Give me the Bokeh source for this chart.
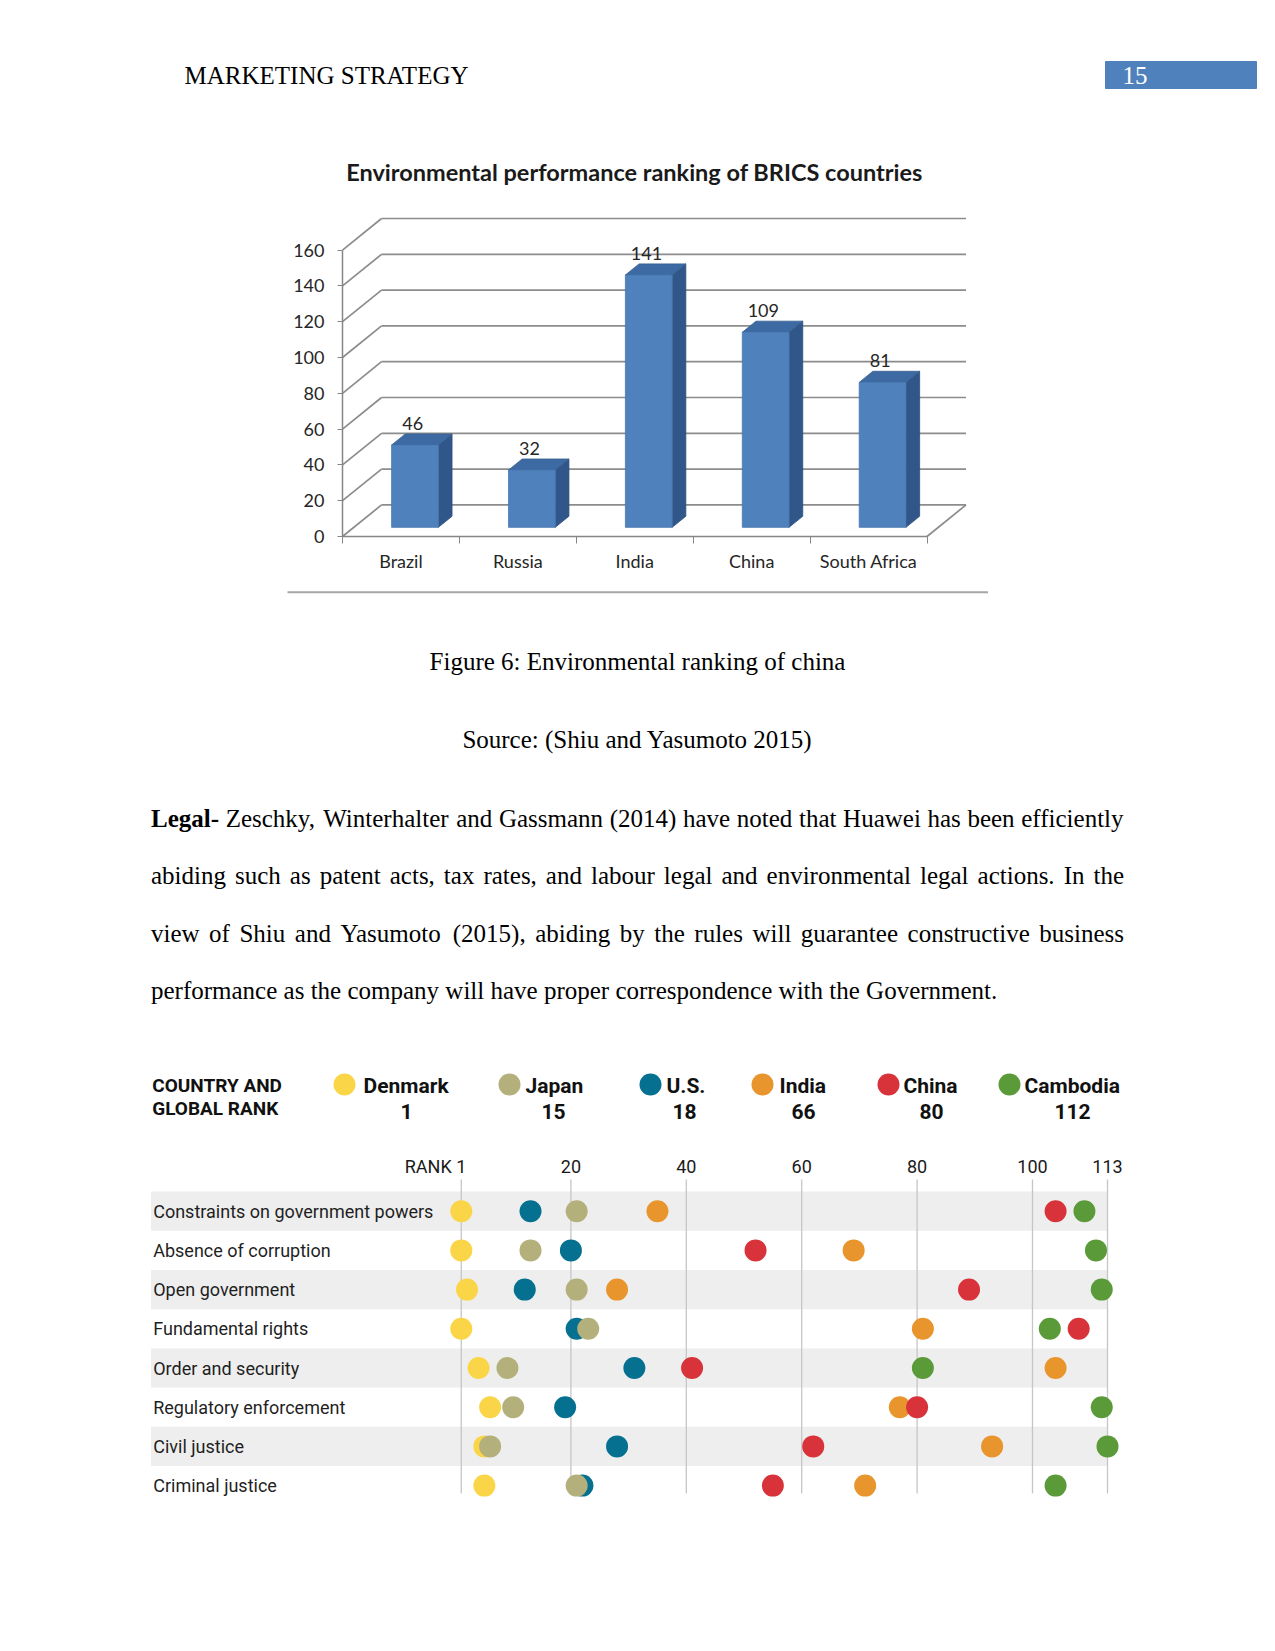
from bokeh.plotting import figure
from bokeh.layouts import column
from bokeh.models import Range1d, FixedTicker
from bokeh.core.properties import value
from bokeh.embed import file_html
from bokeh.resources import INLINE

# ---------------- data ----------------
BRICS = ["Brazil", "Russia", "India", "China", "South Africa"]
BRICS_RANK = [46, 32, 141, 109, 81]
BAR_Y_TICKS = [0, 20, 40, 60, 80, 100, 120, 140, 160]

PILLARS = ["Constraints on government powers", "Absence of corruption", "Open government",
           "Fundamental rights", "Order and security", "Regulatory enforcement",
           "Civil justice", "Criminal justice"]
COUNTRIES = ["Denmark", "Japan", "U.S.", "India", "China", "Cambodia"]
GLOBAL_RANK = [1, 15, 18, 66, 80, 112]
DENMARK = [1, 1, 2, 1, 4, 6, 5, 5]
JAPAN = [21, 13, 21, 23, 9, 10, 6, 21]
US = [13, 20, 12, 21, 31, 19, 28, 22]
INDIA = [35, 69, 28, 81, 104, 77, 93, 71]
CHINA = [104, 52, 89, 108, 41, 80, 62, 55]
CAMBODIA = [109, 111, 112, 103, 81, 112, 113, 104]
RANK_TICKS = [1, 20, 40, 60, 80, 100, 113]
RANK_TICK_LABELS = ["RANK 1", "20", "40", "60", "80", "100", "113"]

HEADER = "MARKETING STRATEGY"
PAGE_NO = "15"
CAPTION = "Figure 6: Environmental ranking of china"
SOURCE = "Source: (Shiu and Yasumoto 2015)"
PARA_LEAD = "Legal-"
PARA_LINES = [
    "Zeschky, Winterhalter and Gassmann (2014) have noted that Huawei has been efficiently",
    "abiding such as patent acts, tax rates, and labour legal and environmental legal actions. In the",
    "view of Shiu and Yasumoto (2015), abiding by the rules will guarantee constructive business",
    "performance as the company will have proper correspondence with the Government.",
]

# ---------------- styles / layout ----------------
W = 1275
SERIF = value("Liberation Serif")
CAL = value("Lato")
SANS = value("Roboto")
DOT_COLORS = {"Denmark": "#FAD548", "Japan": "#B4B07C", "U.S.": "#05708F",
              "India": "#E8952E", "China": "#D8333A", "Cambodia": "#5B9A39"}
DRAW_ORDER = ["Denmark", "U.S.", "Japan", "India", "China", "Cambodia"]
SERIES = {"Denmark": DENMARK, "Japan": JAPAN, "U.S.": US, "India": INDIA,
          "China": CHINA, "Cambodia": CAMBODIA}
BASE_FIX = 8.4   # serif text baselines sit this much higher


def clean(p):
    p.outline_line_color = None
    p.background_fill_color = "white"
    p.border_fill_color = "white"
    p.xgrid.visible = False
    p.ygrid.visible = False
    return p


def page_fig(y0, y1):
    p = figure(width=W, height=y1 - y0, x_range=Range1d(0, W), y_range=Range1d(y1, y0),
               output_backend="svg", toolbar_location=None,
               x_axis_location=None, y_axis_location=None, min_border=0)
    return clean(p)


# ---------------- header ----------------
p1 = page_fig(0, 140)
p1.quad(left=[1105], right=[1256], top=[61], bottom=[88], color="#4F81BD")
p1.text(x=[184], y=[83 - BASE_FIX], text=[HEADER], text_font=SERIF, text_font_size="25px",
        text_baseline="alphabetic", text_color="black")
p1.text(x=[1122], y=[83 - BASE_FIX], text=[PAGE_NO], text_font=SERIF, text_font_size="25px",
        text_baseline="alphabetic", text_color="white")

# ---------------- 3D bar chart ----------------
UX, UY = 116.9, 1.79          # px per category / px per value unit
AX, AY = 342, 536             # page position of the chart origin
Y2A, Y2B = 140, 585
p2 = figure(width=W, height=Y2B - Y2A, output_backend="svg", toolbar_location=None,
            x_range=Range1d((0 - AX) / UX, (W - AX) / UX),
            y_range=Range1d((AY - Y2B) / UY, (AY - Y2A) / UY), min_border=0)
clean(p2)

DX, DY = 0.334, 17.65
NC = len(BRICS)
gx0, gy0, gx1, gy1 = [], [], [], []
for v in BAR_Y_TICKS:
    gx0 += [0, DX]; gy0 += [v, v + DY]
    gx1 += [DX, NC + DX]; gy1 += [v + DY, v + DY]
gx0.append(NC); gy0.append(0); gx1.append(NC + DX); gy1.append(DY)
p2.segment(x0=gx0, y0=gy0, x1=gx1, y1=gy1, line_color="#8C8C8C", line_width=1.7)

OFF_X, OFF_Y, BW, SDX, SDY = 0.12, 5.1, 0.4, 0.117, 6.2
fl, fr, fb, ft = [], [], [], []
sxs, sys_, txs, tys = [], [], [], []
lx, ly, lt = [], [], []
for i, v in enumerate(BRICS_RANK):
    c = i + 0.5
    xl = c + OFF_X - BW / 2
    xr = xl + BW
    yb, yt = OFF_Y, OFF_Y + v
    fl.append(xl); fr.append(xr); fb.append(yb); ft.append(yt)
    sxs.append([xr, xr + SDX, xr + SDX, xr]); sys_.append([yb, yb + SDY, yt + SDY, yt])
    txs.append([xl, xl + SDX, xr + SDX, xr]); tys.append([yt, yt + SDY, yt + SDY, yt])
    lx.append(c + 0.1); ly.append(yt + SDY + 5.9); lt.append(str(v))
p2.patches(xs=sxs, ys=sys_, fill_color="#31578A", line_color="#2C4F7E", line_width=0.8)
p2.patches(xs=txs, ys=tys, fill_color="#3D6AA2", line_color="#36608F", line_width=0.8)
p2.quad(left=fl, right=fr, bottom=fb, top=ft, fill_color="#4F81BD", line_color="#4877B0",
        line_width=0.8)
p2.text(x=lx, y=ly, text=lt, text_font=CAL, text_font_size="18px", text_align="center",
        text_baseline="middle", text_color="#262626")
p2.text(x=[(634 - AX) / UX], y=[(AY - 171.6) / UY],
        text=["Environmental performance ranking of BRICS countries"],
        text_font=CAL, text_font_style="bold", text_font_size="23.5px",
        text_align="center", text_baseline="middle", text_color="#1a1a1a")

ya = p2.yaxis[0]
ya.fixed_location = 0
ya.ticker = FixedTicker(ticks=BAR_Y_TICKS)
ya.bounds = (0, BAR_Y_TICKS[-1])
ya.major_tick_in = 0
ya.major_tick_out = 5
ya.minor_tick_line_color = None
ya.axis_line_color = "#868686"
ya.axis_line_width = 1.5
ya.major_tick_line_color = "#868686"
ya.major_label_text_font = "Lato"
ya.major_label_text_font_size = "18px"
ya.major_label_text_color = "#262626"
ya.major_label_standoff = 13

xa = p2.xaxis[0]
xa.fixed_location = 0
xa.ticker = FixedTicker(ticks=[i + 0.5 for i in range(NC)], minor_ticks=list(range(NC + 1)))
xa.major_label_overrides = {i + 0.5: n for i, n in enumerate(BRICS)}
xa.bounds = (0, NC)
xa.major_tick_line_color = None
xa.major_tick_in = 0
xa.major_tick_out = 0
xa.minor_tick_in = 0
xa.minor_tick_out = 7
xa.minor_tick_line_color = "#868686"
xa.axis_line_color = "#868686"
xa.axis_line_width = 1.5
xa.major_label_text_font = "Lato"
xa.major_label_text_font_size = "18px"
xa.major_label_text_color = "#262626"
xa.major_label_standoff = 6

# ---------------- captions and paragraph ----------------
p3 = page_fig(585, 1010)
p3.segment(x0=[287], y0=[591.7], x1=[987.5], y1=[591.7], line_color="#A6A6A6", line_width=2)
p3.text(x=[637, 637], y=[669.3 - BASE_FIX, 747.3 - BASE_FIX], text=[CAPTION, SOURCE],
        text_font=SERIF, text_font_size="25px", text_align="center",
        text_baseline="alphabetic", text_color="black")

TNR = {' ': .25, '(': .333, ')': .333, ',': .25, '-': .333, '.': .25, ':': .278}
TNR.update({d: .5 for d in "0123456789"})
TNR.update(dict(zip("ABCDEFGHIJKLMNOPQRSTUVWXYZ",
                    [.722, .667, .667, .722, .611, .556, .722, .722, .333, .389, .722, .611, .889,
                     .722, .722, .556, .722, .667, .556, .611, .722, .722, .944, .722, .722, .611])))
TNR.update(dict(zip("abcdefghijklmnopqrstuvwxyz",
                    [.444, .5, .444, .5, .444, .333, .5, .5, .278, .278, .5, .278, .778, .5, .5,
                     .5, .5, .333, .389, .278, .5, .5, .722, .5, .5, .444])))
TNR_B = {'L': .667, 'e': .444, 'g': .5, 'a': .5, 'l': .278, '-': .333}
FS = 25


def tw(s, bold=False):
    return sum((TNR_B.get(ch, TNR.get(ch, .5)) if bold else TNR.get(ch, .5)) for ch in s) * FS


LEFT, RIGHT = 150.5, 1123.5
BASE0, LEAD = 826 - BASE_FIX, 57.6
wx, wy, wt = [], [], []
bx, by, bt = [], [], []
for li, line in enumerate(PARA_LINES):
    words = [(w, False) for w in line.split()]
    if li == 0:
        words = [(PARA_LEAD, True)] + words
    widths = [tw(w, b) for w, b in words]
    if li < len(PARA_LINES) - 1:
        gap = (RIGHT - LEFT - sum(widths)) / (len(words) - 1)
    else:
        gap = tw(" ")
    x = LEFT
    y = BASE0 + li * LEAD
    for (w, b), wd in zip(words, widths):
        if b:
            bx.append(x); by.append(y); bt.append(w)
        else:
            wx.append(x); wy.append(y); wt.append(w)
        x += wd + gap
p3.text(x=wx, y=wy, text=wt, text_font=SERIF, text_font_size="25px",
        text_baseline="alphabetic", text_color="black")
p3.text(x=bx, y=by, text=bt, text_font=SERIF, text_font_size="25px", text_font_style="bold",
        text_baseline="alphabetic", text_color="black")

# ---------------- dot plot ----------------
RX0, RS = 455.0, 5.77        # page x of rank 0, px per rank
RY0, RSY = 1210.7, 39.2      # page y of first row, px per row
Y4A, Y4B = 1010, 1651


def rx(px):
    return (px - RX0) / RS


def ry(py):
    return (py - RY0) / RSY


p4 = figure(width=W, height=Y4B - Y4A, output_backend="svg", toolbar_location=None,
            x_range=Range1d(rx(0), rx(W)), y_range=Range1d(ry(Y4B), ry(Y4A)),
            x_axis_location=None, y_axis_location=None, min_border=0)
clean(p4)

nrow = len(PILLARS)
band_rows = [i for i in range(nrow) if i % 2 == 0]
p4.quad(left=rx(150.5), right=RANK_TICKS[-1], top=[i - 0.5 for i in band_rows],
        bottom=[i + 0.5 for i in band_rows], fill_color="#EEEEEE", line_color=None)
p4.segment(x0=RANK_TICKS, x1=RANK_TICKS, y0=ry(1179), y1=ry(1493),
           line_color="#C6C6C6", line_width=1.3)
p4.text(x=RANK_TICKS[1:], y=ry(1165.5), text=RANK_TICK_LABELS[1:], text_font=SANS,
        text_font_size="18px", text_align="center", text_baseline="middle",
        text_color="#1a1a1a")
p4.text(x=[RANK_TICKS[0]], y=[ry(1165.5)], text=[RANK_TICK_LABELS[0]], text_font=SANS,
        text_font_size="18px", text_align="right", text_baseline="middle", x_offset=5,
        text_color="#1a1a1a")
p4.text(x=rx(152.7), y=list(range(nrow)), text=PILLARS, text_font=SANS, text_font_size="18px",
        text_baseline="middle", text_color="#1f1f1f")

for name in DRAW_ORDER:
    p4.scatter(x=SERIES[name], y=list(range(nrow)), size=22, fill_color=DOT_COLORS[name],
               line_color=None)

# legend header
LEG_DOT_X = [344, 509, 650, 762, 888, 1009]
LEG_TXT_X = [363, 525, 666, 779, 903, 1024]
LEG_RANK_X = [406, 553, 684, 803, 931, 1072]
p4.text(x=rx(151.7), y=[ry(1085), ry(1108)], text=["COUNTRY AND", "GLOBAL RANK"],
        text_font=SANS, text_font_style="bold", text_font_size="19px",
        text_baseline="middle", text_color="#111111")
p4.scatter(x=[rx(v) for v in LEG_DOT_X], y=ry(1084), size=22,
           fill_color=[DOT_COLORS[c] for c in COUNTRIES], line_color=None)
p4.text(x=[rx(v) for v in LEG_TXT_X], y=ry(1085), text=COUNTRIES, text_font=SANS,
        text_font_style="bold", text_font_size="21px", text_baseline="middle",
        text_color="#111111")
p4.text(x=[rx(v) for v in LEG_RANK_X], y=ry(1111), text=[str(r) for r in GLOBAL_RANK],
        text_font=SANS, text_font_style="bold", text_font_size="21px", text_align="center",
        text_baseline="middle", text_color="#111111")

page = column(p1, p2, p3, p4, spacing=0)
open("out.html", "w").write(file_html(page, INLINE))
